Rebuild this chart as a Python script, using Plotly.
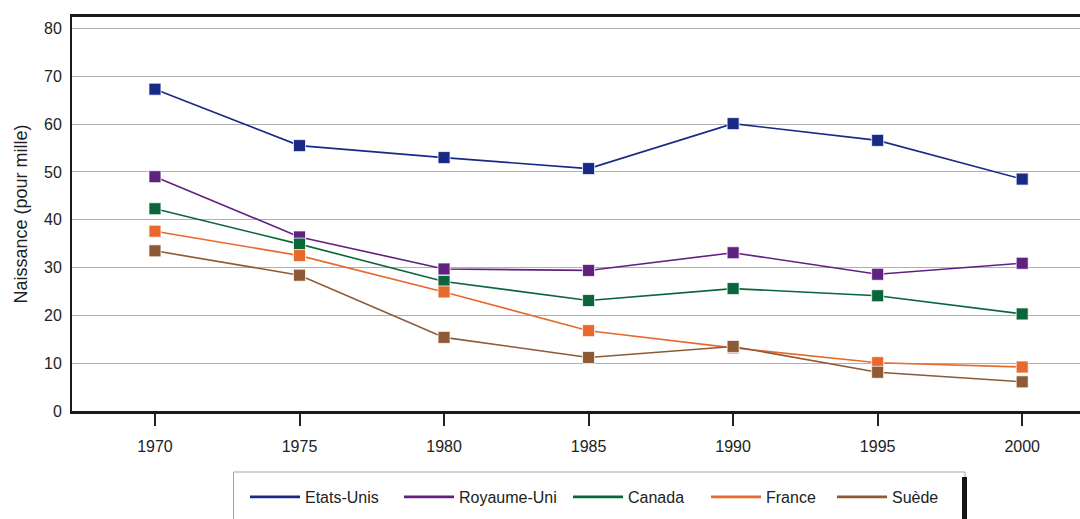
import plotly.graph_objects as go

# Taux de naissances chez les adolescentes (pour mille), 1970-2000
annees = [1970, 1975, 1980, 1985, 1990, 1995, 2000]
pays = ["Etats-Unis", "Royaume-Uni", "Canada", "France", "Suède"]
etats_unis = [67.3, 55.5, 53.0, 50.7, 60.1, 56.6, 48.5]
royaume_uni = [49.0, 36.4, 29.7, 29.4, 33.1, 28.6, 30.9]
canada = [42.3, 34.9, 27.1, 23.1, 25.6, 24.1, 20.3]
france = [37.6, 32.5, 24.9, 16.8, 13.2, 10.1, 9.2]
suede = [33.5, 28.4, 15.4, 11.2, 13.5, 8.1, 6.1]
couleurs = ["#182a86", "#612181", "#0a663a", "#e8692c", "#8d5a35"]

valeurs = [etats_unis, royaume_uni, canada, france, suede]

W, H = 1080, 519
ML, MR, MT, MB = 72, 0, 17, 108
PW, PH = W - ML - MR, H - MT - MB
FONT = "Liberation Sans, Arial, sans-serif"


def px(x):
    return (x - ML) / PW


def py(y):
    return (H - MB - y) / PH


fig = go.Figure()

for nom, ys, c in zip(pays, valeurs, couleurs):
    fig.add_trace(go.Scatter(
        x=annees, y=ys, name=nom, mode="lines+markers",
        line=dict(color=c, width=1.6),
        marker=dict(symbol="square", size=12, color=c,
                    line=dict(color="rgba(255,255,255,0.75)", width=1)),
        showlegend=False, cliponaxis=False,
    ))

# Entrées de légende : un trait par pays, chacune dans sa propre légende
leg_x = [251, 405, 574, 712, 838]
legendes = {}
for i, (nom, c, lx) in enumerate(zip(pays, couleurs, leg_x)):
    lid = "legend" if i == 0 else f"legend{i + 1}"
    fig.add_trace(go.Scatter(
        x=[None], y=[None], name=nom, mode="lines",
        line=dict(color=c, width=2.8), legend=lid, showlegend=True,
    ))
    legendes[lid] = dict(
        x=px(lx - 6), y=py(497), xanchor="left", yanchor="middle",
        orientation="h", bgcolor="rgba(0,0,0,0)", borderwidth=0,
        font=dict(family=FONT, size=16, color="#222"),
        itemwidth=50, tracegroupgap=0,
    )

shapes = [
    dict(type="line", xref="paper", yref="paper",
         x0=px(233.5), x1=px(965), y0=py(472), y1=py(472),
         line=dict(color="#a5a5a5", width=1)),
    dict(type="line", xref="paper", yref="paper",
         x0=px(233.5), x1=px(233.5), y0=py(472), y1=py(530),
         line=dict(color="#a5a5a5", width=1)),
    dict(type="line", xref="paper", yref="paper",
         x0=px(965), x1=px(965), y0=py(472), y1=py(477),
         line=dict(color="#a5a5a5", width=1)),
    dict(type="line", xref="paper", yref="paper",
         x0=px(964.5), x1=px(964.5), y0=py(477), y1=py(530),
         line=dict(color="#151515", width=5)),
]

fig.update_layout(
    width=W, height=H,
    margin=dict(l=ML, r=MR, t=MT, b=MB),
    paper_bgcolor="white", plot_bgcolor="white",
    font=dict(family=FONT, size=16, color="#222"),
    shapes=shapes,
    **legendes,
)

fig.update_xaxes(
    range=[1967.13, 2002.0], tickvals=annees, ticktext=[str(a) for a in annees],
    ticks="outside", ticklen=12, tickwidth=2, tickcolor="#222",
    showline=True, linecolor="#1a1a1a", linewidth=2.5, mirror=True,
    showgrid=False, zeroline=False, ticklabelstandoff=7,
    tickfont=dict(family=FONT, size=16, color="#222"),
)
fig.update_yaxes(
    range=[0, 82.4], tickvals=[0, 10, 20, 30, 40, 50, 60, 70, 80],
    showline=True, linecolor="#1a1a1a", linewidth=2,
    showgrid=True, gridcolor="#b0b0b0", gridwidth=1.3, zeroline=False,
    ticks="", ticklabelstandoff=5,
    tickfont=dict(family=FONT, size=16, color="#222"),
    title=dict(text="Naissance (pour mille)", standoff=12,
               font=dict(family=FONT, size=18, color="#222")),
)

fig.write_html("out.html")
